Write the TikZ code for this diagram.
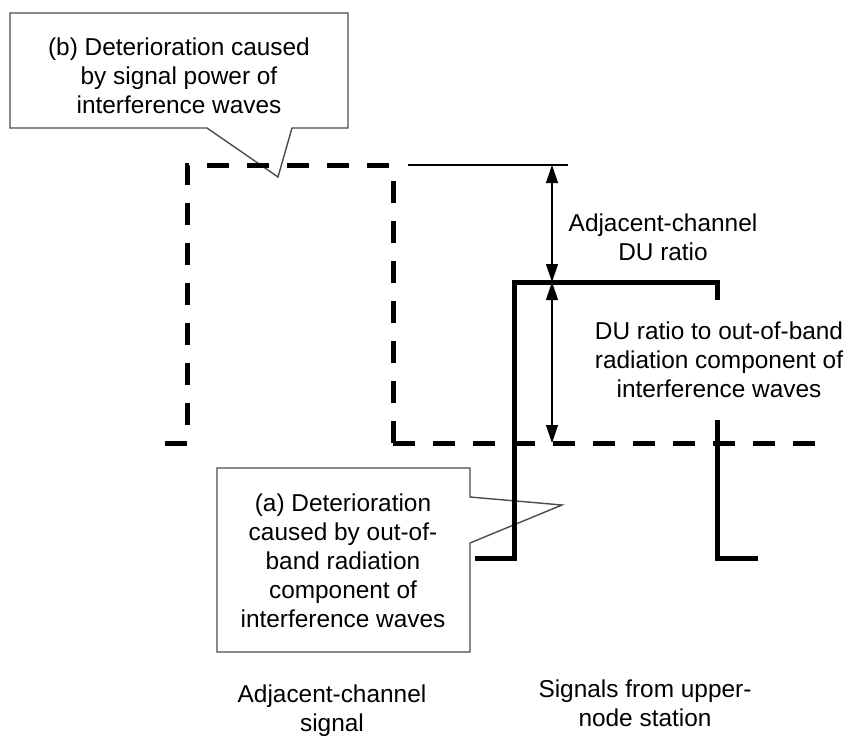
\documentclass[tikz,border=0pt]{standalone}
\usepackage{fontspec}
\setmainfont{Liberation Sans}
\usetikzlibrary{arrows.meta}

\begin{document}
\begin{tikzpicture}[
        % one unit = one pixel of the reference, y grows downwards
        x=0.5pt, y=-0.5pt,
        every node/.style={font=\fontsize{12.2}{14.5}\selectfont, align=center, inner sep=0pt},
        callout/.style={draw=black!70, line width=0.7pt, fill=white},
        interf/.style={line width=2.5pt, dash pattern=on 11pt off 9pt},
        wanted/.style={line width=2.5pt},
        dim/.style={{Triangle[width=6pt,length=9pt]}-{Triangle[width=6pt,length=9pt]}, line width=0.6pt},
        guide/.style={line width=0.6pt}
    ]
    \useasboundingbox (0,0) rectangle (858,740);

    % --- Callouts (drawn first, the curves run over them) ---
    \draw[callout] (10,13) -- (348,13) -- (348,128) -- (292,128) -- (278,177)
        -- (207,128) -- (10,128) -- cycle;
    \node (calloutB) at (179,76) {(b) Deterioration caused\\by signal power of\\interference waves};

    \draw[callout] (217,468) -- (470,468) -- (470,497) -- (562,505) -- (470,543)
        -- (470,652) -- (217,652) -- cycle;
    \node (calloutA) at (343,561) {(a) Deterioration\\caused by out-of-\\band radiation\\component of\\interference waves};

    % --- Key levels ---
    \coordinate (topD) at (552,165);
    \coordinate (topW) at (552,282);
    \coordinate (floor) at (552,443);
    \coordinate (corner) at (393,443);

    % --- Adjacent-channel signal (dashed) ---
    \draw[interf] (165,443) -- (187,443) -- (187,165) -- (393,165);
    \draw[interf] (corner) -- (393,178);
    \draw[interf] (corner) -- (815,443);

    % --- Signals from upper-node station (solid) ---
    \draw[wanted] (475,558) -- (514,558) -- (514,282) -- (717,282) -- (717,300);
    \draw[wanted] (717,420) -- (717,558) -- (758,558);

    % --- Dimension lines ---
    \draw[guide] (408,165) -- (568,165);
    \draw[dim] (topD) -- (topW);
    \draw[dim] (topW) -- (floor);

    % --- Labels ---
    \node (duAdj) at (663,237) {Adjacent-channel\\DU ratio};
    \node (duOob) at (719,360) {DU ratio to out-of-band\\radiation component of\\interference waves};
    \node (adjSig) at (332,711) {Adjacent-channel\\signal};
    \node (upSig) at (645,703) {Signals from upper-\\node station};

\end{tikzpicture}
\end{document}
